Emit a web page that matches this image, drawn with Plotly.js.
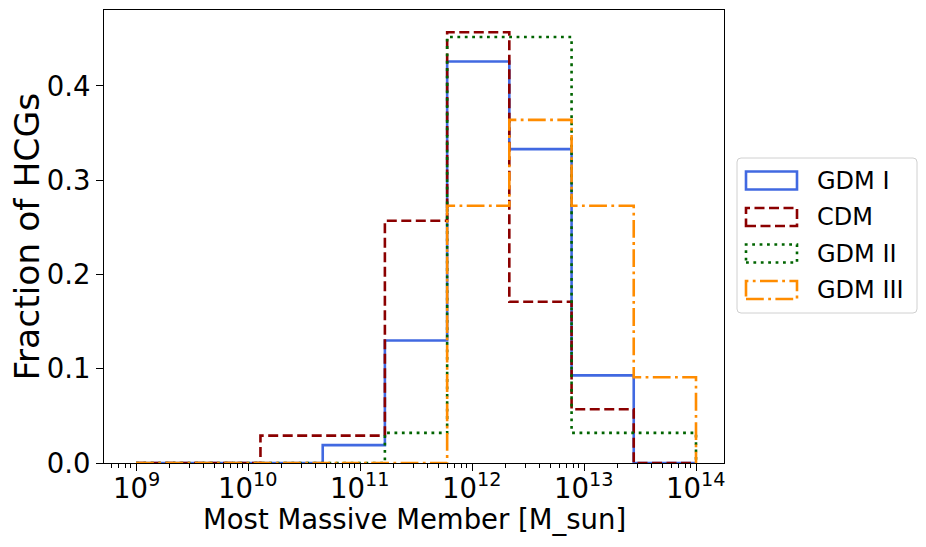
<!DOCTYPE html>
<html>
<head>
<meta charset="utf-8">
<script src="https://cdn.plot.ly/plotly-3.0.1.min.js"></script>
<style>html,body{margin:0;padding:0;background:#fff;}#chart{width:926px;height:547px;}</style>
</head>
<body>
<div id="chart"></div>
<script>
// Bin edges (log10 of mass in M_sun)
const binEdgesLog = [9, 9.556, 10.111, 10.667, 11.222, 11.778, 12.333, 12.889, 13.444, 14];
// Fraction of HCGs per bin
const gdmI   = [0, 0, 0, 0.019, 0.130, 0.426, 0.333, 0.093, 0];
const cdm    = [0, 0, 0.029, 0.029, 0.257, 0.457, 0.171, 0.057, 0];
const gdmII  = [0, 0, 0, 0, 0.032, 0.452, 0.452, 0.032, 0.032];
const gdmIII = [0, 0, 0, 0, 0, 0.273, 0.364, 0.273, 0.091];
const seriesNames = ["GDM I", "CDM", "GDM II", "GDM III"];
// x tick labels (decades)
const xTickExps = [9, 10, 11, 12, 13, 14];
const xTitle = "Most Massive Member [M_sun]";
const yTitle = "Fraction of HCGs";

const styles = [
  {color: "#4169E1", dash: "solid"},
  {color: "#8B0000", dash: "10px,4.5px"},
  {color: "#006400", dash: "2.8px,4.6px"},
  {color: "#FF8C00", dash: "17.8px,4.4px,2.8px,4.4px"}
];
const allSeries = [gdmI, cdm, gdmII, gdmIII];

function stepXY(edgesLog, h) {
  const e = edgesLog.map(v => Math.pow(10, v));
  const x = [e[0]], y = [0];
  for (let i = 0; i < h.length; i++) {
    x.push(e[i]); y.push(h[i]);
    x.push(e[i + 1]); y.push(h[i]);
  }
  x.push(e[e.length - 1]); y.push(0);
  return {x, y};
}

const traces = allSeries.map((h, i) => {
  const s = stepXY(binEdgesLog, h);
  return {
    type: "scatter", mode: "lines", x: s.x, y: s.y, name: seriesNames[i],
    line: {color: styles[i].color, width: 2.6, dash: styles[i].dash},
    showlegend: false, hoverinfo: "skip"
  };
});

const L = 104, R = 724, T = 10, B = 463;
const W = R - L, H = B - T;
const px = v => (v - L) / W;
const py = v => (B - v) / H;

const shapes = [];
const annotations = [];
(function(){
  const x0 = px(737), x1 = px(917), y0 = py(313), y1 = py(158);
  const rx = 4 / W, ry = 4 / H;
  const path = `M ${x0+rx},${y0} L ${x1-rx},${y0} Q ${x1},${y0} ${x1},${y0+ry} L ${x1},${y1-ry} Q ${x1},${y1} ${x1-rx},${y1} L ${x0+rx},${y1} Q ${x0},${y1} ${x0},${y1-ry} L ${x0},${y0+ry} Q ${x0},${y0} ${x0+rx},${y0} Z`;
  shapes.push({type: "path", xref: "paper", yref: "paper", path: path,
    line: {color: "#d0d0d0", width: 1}, fillcolor: "rgba(255,255,255,0.8)", layer: "above"});
})();
const centers = [180.5, 217, 253.5, 290];
centers.forEach((c, i) => {
  shapes.push({type: "rect", xref: "paper", yref: "paper",
    x0: px(746), x1: px(797), y0: py(c + 9), y1: py(c - 9),
    line: {color: styles[i].color, width: 2.6, dash: styles[i].dash}, layer: "above"});
  annotations.push({xref: "paper", yref: "paper", x: px(815), y: py(c), xanchor: "left", yanchor: "middle",
    text: seriesNames[i], showarrow: false, font: {family: "DejaVu Sans", size: 24, color: "#000"}});
});
// x tick labels placed at the axis positions (log axis annotations use log10 units)
xTickExps.forEach(e => {
  annotations.push({xref: "x", yref: "paper", x: e, y: py(486), xanchor: "center", yanchor: "middle",
    text: "10<sup>" + e + "</sup>", showarrow: false,
    font: {family: "DejaVu Sans", size: 27.5, color: "#000"}});
});
// axis titles
annotations.push({xref: "paper", yref: "paper", x: 0.5, y: py(519), xanchor: "center", yanchor: "middle",
  text: xTitle, showarrow: false, font: {family: "DejaVu Sans", size: 27.5, color: "#000"}});
annotations.push({xref: "paper", yref: "paper", x: px(26), y: 0.5, xanchor: "center", yanchor: "middle",
  textangle: -90, text: yTitle, showarrow: false, font: {family: "DejaVu Sans", size: 34.5, color: "#000"}});

const layout = {
  width: 926, height: 547,
  margin: {l: L, r: 926 - R, t: T, b: 547 - B},
  paper_bgcolor: "#fff", plot_bgcolor: "#fff",
  font: {family: "DejaVu Sans", color: "#000"},
  showlegend: false,
  xaxis: {
    type: "log", range: [8.714, 14.25],
    dtick: 1, showticklabels: false,
    ticks: "outside", ticklen: 7, tickwidth: 1, tickcolor: "#000",
    minor: {ticks: "outside", ticklen: 4, tickwidth: 1, tickcolor: "#000", showgrid: false},
    showgrid: false, zeroline: false,
    showline: true, linecolor: "#000", linewidth: 1, mirror: true
  },
  yaxis: {
    range: [0, 0.4806], dtick: 0.1, tickformat: ".1f",
    ticks: "outside", ticklen: 7, tickwidth: 1, tickcolor: "#000",
    showgrid: false, zeroline: false,
    showline: true, linecolor: "#000", linewidth: 1, mirror: true,
    tickfont: {size: 27.5, family: "DejaVu Sans"}
  },
  shapes: shapes,
  annotations: annotations
};

Plotly.newPlot("chart", traces, layout, {staticPlot: true, displayModeBar: false});
</script>
</body>
</html>
